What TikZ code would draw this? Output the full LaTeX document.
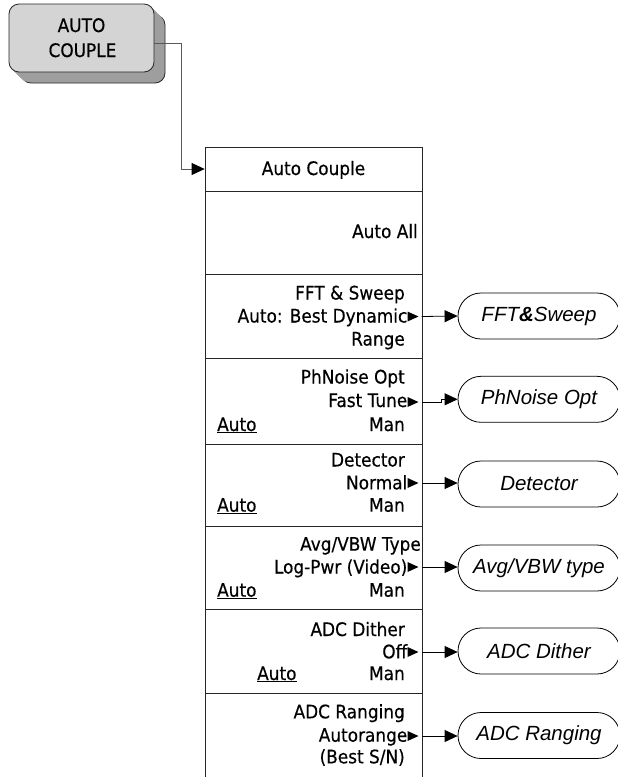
\documentclass[tikz,border=0pt]{standalone}
\usepackage{fontspec}
\setmainfont{DejaVu Sans}
\newfontfamily\menufont[FakeStretch=0.91,FakeBold=0.4]{DejaVu Sans}
\newfontfamily\ovalfont{Liberation Sans}
\usetikzlibrary{arrows.meta,shapes.misc}
\begin{document}
\begin{tikzpicture}[x=1pt,y=-1pt,
  menutxt/.style={inner sep=0pt, font=\menufont\fontsize{18.6}{22}\selectfont},
  rt/.style={menutxt, anchor=base east},
  lt/.style={menutxt, anchor=base west},
  ct/.style={menutxt, anchor=base},
  rowbox/.style={draw=black!85, line width=0.8pt, minimum width=217pt, inner sep=0pt},
  oval/.style={draw=black, line width=0.8pt, rounded rectangle, minimum width=162pt, minimum height=46pt, inner sep=0pt, font=\ovalfont\itshape\fontsize{20.5}{24}\selectfont},
  arr/.style={draw=black, line width=0.8pt, -{Triangle[length=13pt,width=12pt]}},
  conn/.style={draw=black!65, line width=0.8pt, -{Triangle[length=13pt,width=12pt,fill=black,color=black]}},
  marker/.style={fill=black},
  btnface/.style={fill=black!17, draw=black!85, line width=0.8pt, rounded corners=10pt},
  btnshadow/.style={fill=black!38, rounded corners=10pt},
]
\useasboundingbox (0,0) rectangle (618,777);

% ---------- button ----------
\draw[btnshadow, draw=black!85, line width=0.8pt] (21,15) rectangle (165,83);
\foreach \s in {10,9,...,1}{
  \fill[btnshadow] (9+\s,4+\s) rectangle (154+\s,72+\s);
}
\node[btnface, minimum width=145pt, minimum height=68pt, inner sep=0pt] (btn) at (81.5,38) {};
\node[ct] (btnA) at (81.5,32) {AUTO};
\node[ct] (btnB) at (82.5,57) {COUPLE};

% ---------- menu rows ----------
\node[rowbox, minimum height=44pt] (r1) at (313.5,169) {};
\node[rowbox, minimum height=83pt] (r2) at (313.5,232.5) {};
\node[rowbox, minimum height=84pt] (r3) at (313.5,316) {};
\node[rowbox, minimum height=86pt] (r4) at (313.5,401) {};
\node[rowbox, minimum height=82pt] (r5) at (313.5,485) {};
\node[rowbox, minimum height=83pt] (r6) at (313.5,567.5) {};
\node[rowbox, minimum height=84pt] (r7) at (313.5,651) {};
\node[rowbox, minimum height=107pt] (r8) at (313.5,746.5) {};

% entry connector
\draw[conn] ([yshift=-5pt]btn.east) -- ++(27,0) |- (r1.west);

% texts
\node[ct] (t1) at (313.5,175) {Auto Couple};
\node[rt] (t2) at (418,238) {Auto All};

\node[rt] (t3a) at (405,299.5) {FFT \& Sweep};
\node[rt] (t3b) at (407.5,322.5) {Auto: Best Dynamic};
\node[rt] (t3c) at (405,345.5) {Range};

\node[rt] (t4a) at (405,383.5) {PhNoise Opt};
\node[rt] (t4b) at (407.5,407) {Fast Tune};
\node[lt] (t4c) at (217,431) {\underline{Auto}};
\node[rt] (t4d) at (405,431) {Man};

\node[rt] (t5a) at (405,466.5) {Detector};
\node[rt] (t5b) at (407.5,489.3) {Normal};
\node[lt] (t5c) at (217,511.7) {\underline{Auto}};
\node[rt] (t5d) at (405,511.7) {Man};

\node[rt] (t6a) at (421,550.7) {Avg/VBW Type};
\node[rt] (t6b) at (407.5,573.5) {Log-Pwr (Video)};
\node[lt] (t6c) at (217,596.7) {\underline{Auto}};
\node[rt] (t6d) at (405,596.7) {Man};

\node[rt] (t7a) at (405,636) {ADC Dither};
\node[rt] (t7b) at (407.5,658.3) {Off};
\node[lt] (t7c) at (257,680) {\underline{Auto}};
\node[rt] (t7d) at (405,680) {Man};

\node[rt] (t8a) at (405,718.3) {ADC Ranging};
\node[rt] (t8b) at (407.5,741.7) {Autorange};
\node[rt] (t8c) at (405,763.3) {(Best S/N)};

% markers
\foreach \c in {316.5,402,483,567,652,736}{
  \fill[marker] (407.5,\c-5) -- (418.5,\c) -- (407.5,\c+5) -- cycle;
}

% ovals
\node[oval] (o1) at (539,316) {FFT{\bfseries\&}Sweep};
\node[oval] (o2) at (539,399.3) {PhNoise Opt};
\node[oval] (o3) at (539,484) {Detector};
\node[oval] (o4) at (539,568) {Avg/VBW type};
\node[oval] (o5) at (539,651) {ADC Dither};
\node[oval] (o6) at (539,735.5) {ADC Ranging};

% connectors
\coordinate (s1) at (421.7,316.5);
\coordinate (s2) at (421.7,402);
\coordinate (s3) at (421.7,483);
\coordinate (s4) at (421.7,567);
\coordinate (s5) at (421.7,652);
\coordinate (s6) at (421.7,736);
\draw[arr] (s1) -- (o1.west);
\draw[arr] (s2) -- (441,402) -- (441,399.3) -- (o2.west);
\draw[arr] (s3) -- (s3 -| o3.west);
\draw[arr] (s4) -- (s4 -| o4.west);
\draw[arr] (s5) -- (s5 -| o5.west);
\draw[arr] (s6) -- (s6 -| o6.west);
\end{tikzpicture}
\end{document}
